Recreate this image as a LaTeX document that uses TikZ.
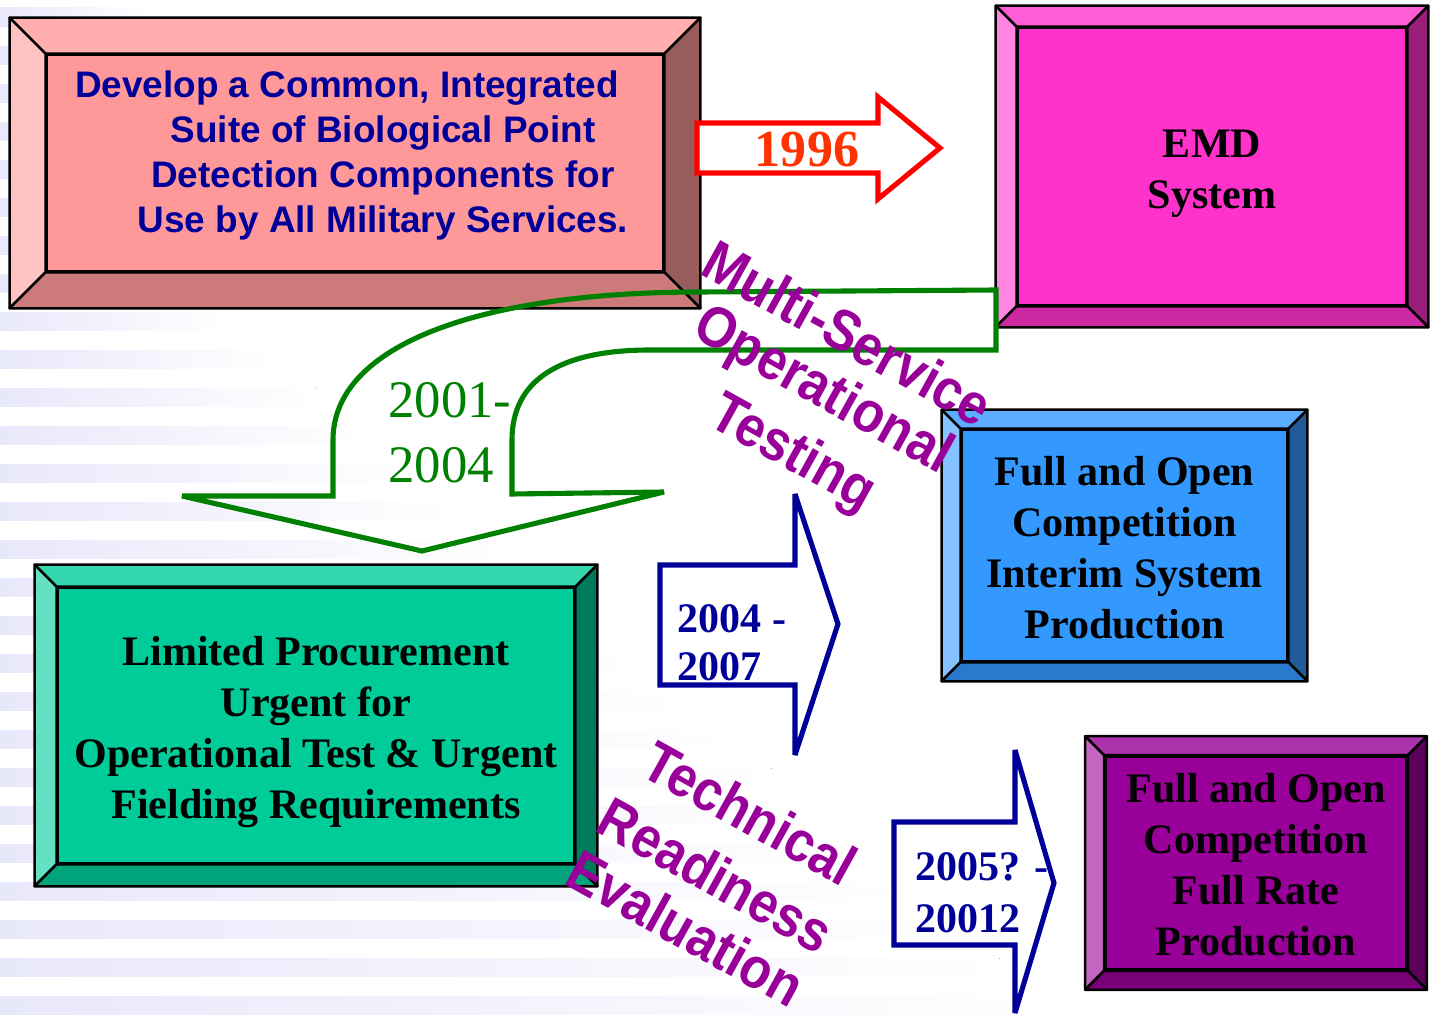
\documentclass[tikz,border=0pt]{standalone}
\usepackage{fontspec}
\setmainfont{Liberation Serif}
\newfontfamily\arialfont{Liberation Sans}

\definecolor{lavanda}{RGB}{232,232,251}
\definecolor{rosaF}{HTML}{FF9999}
\definecolor{rosaT}{HTML}{FFADAD}
\definecolor{rosaL}{HTML}{FFC2C2}
\definecolor{rosaR}{HTML}{995C5C}
\definecolor{rosaB}{HTML}{CC7A7A}
\definecolor{fucsiaF}{HTML}{FF33CC}
\definecolor{fucsiaT}{HTML}{FF5CD6}
\definecolor{fucsiaL}{HTML}{FF85E0}
\definecolor{fucsiaR}{HTML}{991F7A}
\definecolor{fucsiaB}{HTML}{CC29A3}
\definecolor{azzurroF}{HTML}{3399FF}
\definecolor{azzurroT}{HTML}{5CADFF}
\definecolor{azzurroL}{HTML}{85C2FF}
\definecolor{azzurroR}{HTML}{1F5C99}
\definecolor{azzurroB}{HTML}{297ACC}
\definecolor{verdeF}{HTML}{00CC99}
\definecolor{verdeT}{HTML}{33D6AD}
\definecolor{verdeL}{HTML}{66E0C2}
\definecolor{verdeR}{HTML}{007A5C}
\definecolor{verdeB}{HTML}{00A37A}
\definecolor{violaF}{HTML}{990099}
\definecolor{violaT}{HTML}{AD33AD}
\definecolor{violaL}{HTML}{C266C2}
\definecolor{violaR}{HTML}{5C005C}
\definecolor{violaB}{HTML}{7A007A}
\definecolor{bluscuro}{HTML}{000099}
\definecolor{verdefreccia}{HTML}{008000}
\definecolor{rossofreccia}{HTML}{FF0000}
\definecolor{arancio}{HTML}{FF3300}
\definecolor{porpora}{HTML}{990099}

% cornice smussata attorno a un nodo: #1 nodo, #2 spessore, #3 sopra, #4 sinistra, #5 destra, #6 sotto
\newcommand{\cornice}[6]{%
  \draw[bordo, fill=#3] (#1.north west) -- ([shift={(-#2,-#2)}]#1.north west) -- ([shift={(#2,-#2)}]#1.north east) -- (#1.north east) -- cycle;
  \draw[bordo, fill=#4] (#1.north west) -- ([shift={(-#2,-#2)}]#1.north west) -- ([shift={(-#2,#2)}]#1.south west) -- (#1.south west) -- cycle;
  \draw[bordo, fill=#5] (#1.north east) -- ([shift={(#2,-#2)}]#1.north east) -- ([shift={(#2,#2)}]#1.south east) -- (#1.south east) -- cycle;
  \draw[bordo, fill=#6] (#1.south west) -- ([shift={(-#2,#2)}]#1.south west) -- ([shift={(#2,#2)}]#1.south east) -- (#1.south east) -- cycle;
}

\tikzset{
  bordo/.style={draw=black, line width=0.7pt, line join=round},
  faccia/.style={bordo, inner sep=0pt},
  testo/.style={inner sep=0pt, align=center, font=\bfseries\fontsize{11.95}{14.5}\selectfont},
  arialblu/.style={inner sep=0pt, align=center, text=bluscuro, font=\arialfont\bfseries\fontsize{10.5}{12.8}\selectfont},
  freccia/.style={line width=1.45pt, miter limit=3},
  anno/.style={inner sep=0pt, align=left, text=bluscuro, font=\bfseries\fontsize{11.95}{13.7}\selectfont},
  wordart/.style={inner sep=0pt, text=porpora, rotate=-29, yscale=1.12, font=\arialfont\bfseries\fontsize{14.6}{16}\selectfont},
}

\begin{document}
\begin{tikzpicture}[x=0.01cm, y=-0.01cm]
\useasboundingbox (0,0) rectangle (1435,1015);

% strisce sfumate sullo sfondo
\foreach \i in {0,...,26} {
  \pgfmathsetmacro{\yy}{8+38*\i}
  \pgfmathsetmacro{\ll}{max(150,1.2*\yy-150)}
  \fill[left color=lavanda, right color=white] (0,\yy) rectangle (\ll,\yy+18);
}

% riquadri smussati
\node[faccia, fill=rosaF, minimum width=6.16cm, minimum height=2.16cm] (sviluppo) at (355,163) {};
\cornice{sviluppo}{36}{rosaT}{rosaL}{rosaR}{rosaB}
\node[arialblu] (obiettivo) at (383,155) {Develop a Common, Integrated\rule{0.72cm}{0pt}\\Suite of Biological Point\\Detection Components for\\Use by All Military Services.};

\node[faccia, fill=fucsiaF, minimum width=3.88cm, minimum height=2.77cm] (emd) at (1212,166.5) {};
\cornice{emd}{21}{fucsiaT}{fucsiaL}{fucsiaR}{fucsiaB}
\node[testo] (emdtesto) at ([yshift=-0.07cm]emd.center) {EMD\\System};

\node[faccia, fill=azzurroF, minimum width=3.25cm, minimum height=2.31cm] (interim) at (1124.5,545.5) {};
\cornice{interim}{19}{azzurroT}{azzurroL}{azzurroR}{azzurroB}
\node[testo] (interimtesto) at ([yshift=-0.02cm]interim.center) {Full and Open\\Competition\\Interim System\\Production};

\node[faccia, fill=verdeF, minimum width=5.16cm, minimum height=2.75cm] (limitata) at (316,725.5) {};
\cornice{limitata}{22}{verdeT}{verdeL}{verdeR}{verdeB}
\node[testo] (limitatatesto) at ([yshift=-0.065cm]limitata.center) {Limited Procurement\\Urgent for\\Operational Test \& Urgent\\Fielding Requirements};

\node[faccia, fill=violaF, minimum width=3.01cm, minimum height=2.13cm] (piena) at (1256,863) {};
\cornice{piena}{19}{violaT}{violaL}{violaR}{violaB}
\node[testo] (pienatesto) at ([yshift=-0.02cm]piena.center) {Full and Open\\Competition\\Full Rate\\Production};

% frecce a blocco
\draw[freccia, draw=rossofreccia, fill=white] (697,123) -- (878,123) -- (878,97) -- (940,148) -- (878,199) -- (878,173) -- (697,173) -- cycle; % 1996
\draw[freccia, draw=verdefreccia] (996,290) -- (700,292) .. controls (480,292) and (333,345) .. (333,440) -- (333,496) -- (182,496) -- (422,551) -- (664,492) -- (512,494) -- (512,440) .. controls (512,380) and (560,350) .. (650,350) -- (996,350) -- cycle; % inversione
\draw[freccia, draw=bluscuro] (660,565) -- (795,565) -- (795,494) -- (838,624) -- (795,755) -- (795,685) -- (660,685) -- cycle; % 2004-2007
\draw[freccia, draw=bluscuro] (894,822) -- (1015,822) -- (1015,750) -- (1054,883) -- (1015,1013) -- (1015,945) -- (894,945) -- cycle; % 2005-20012

% anni
\node[inner sep=0pt, text=arancio, font=\bfseries\fontsize{14.8}{16}\selectfont] (anno1996) at (807,150) {1996};
\node[inner sep=0pt, align=left, text=verdefreccia, font=\fontsize{15}{18.5}\selectfont] (anno2001) at (450,433) {2001-\\2004};
\node[anno] (anno2004) at (732,643) {2004 -\\2007};
\node[anno, font=\bfseries\fontsize{11.95}{14.8}\selectfont] (anno2005) at (982,893) {2005? -\\20012};

% scritte inclinate
\node[wordart] (multi) at (848,333) {Multi-Service};
\node[wordart] (operativo) at (822,392) {Operational};
\node[wordart] (prove) at (792,455) {Testing};
\node[wordart] (tecnica) at (750,813) {Technical};
\node[wordart] (prontezza) at (716,875) {Readiness};
\node[wordart] (valutazione) at (686,928) {Evaluation};
\end{tikzpicture}
\end{document}
